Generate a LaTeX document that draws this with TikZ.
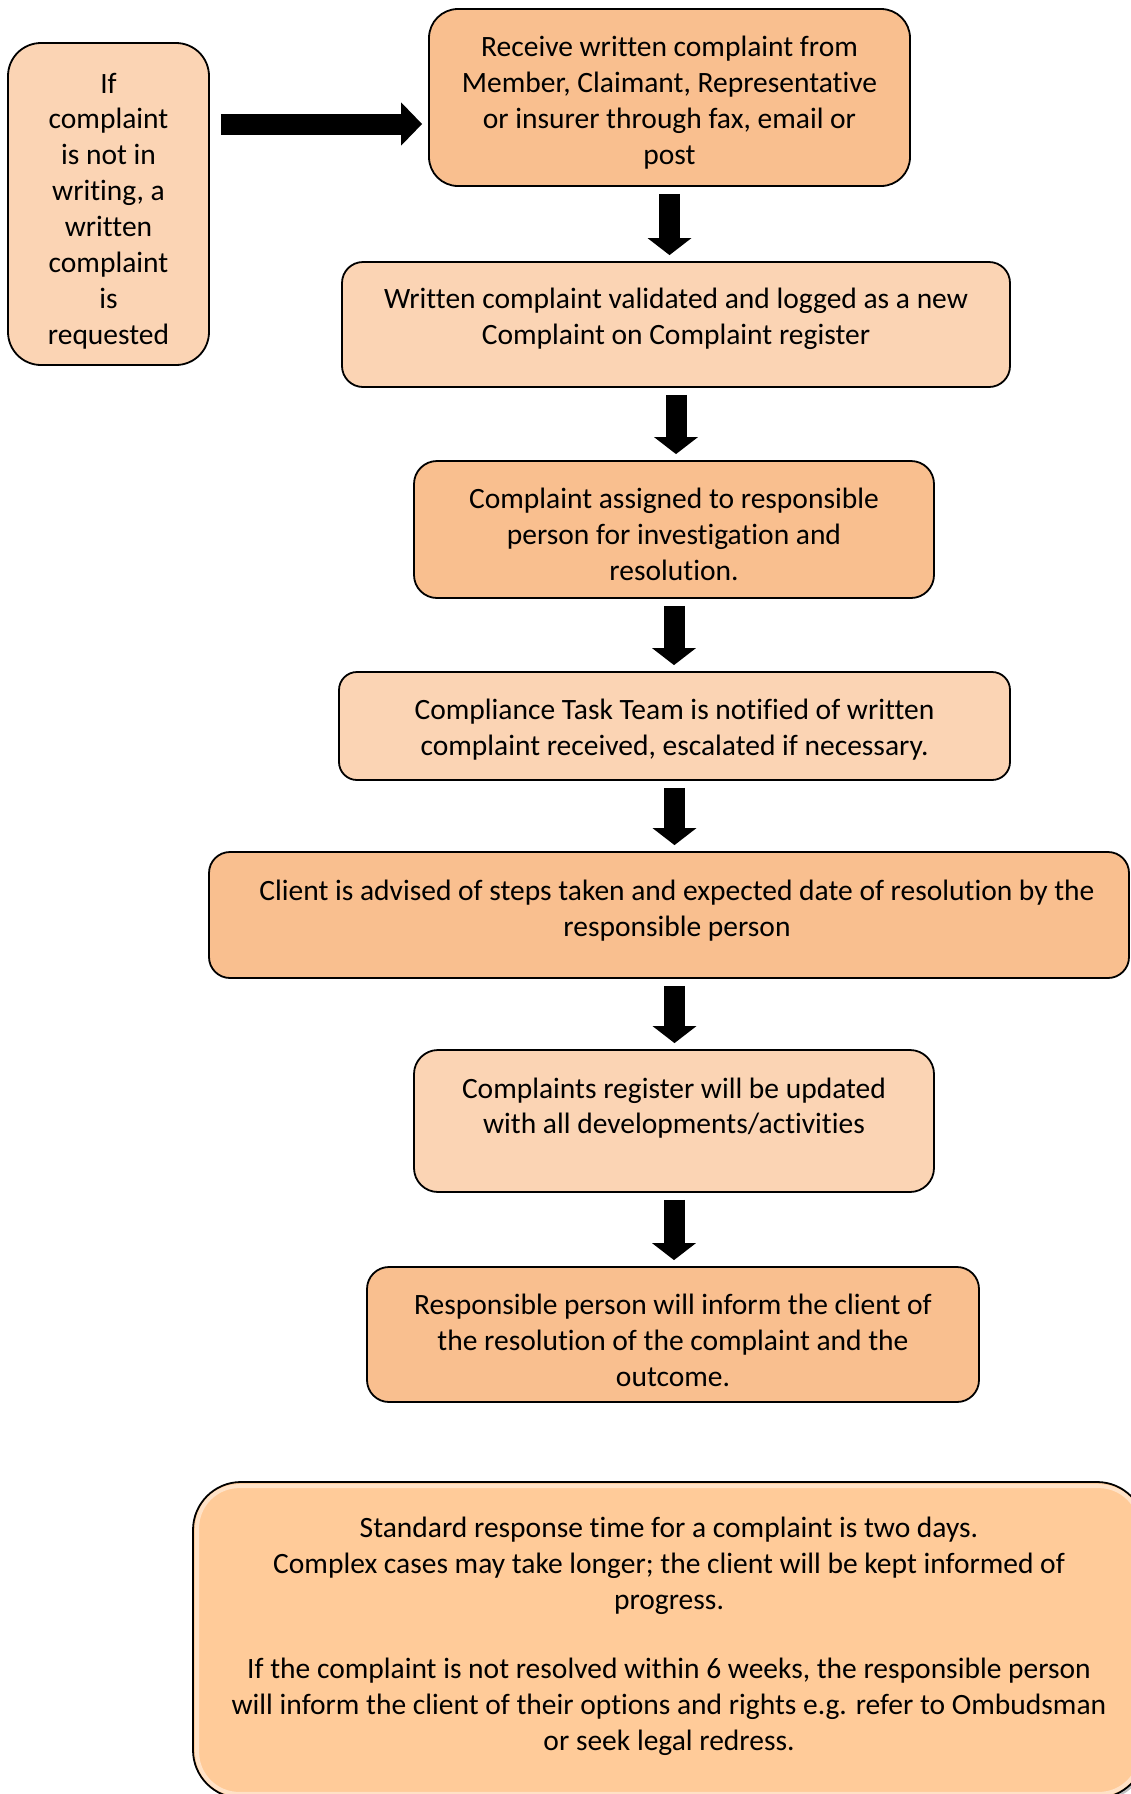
\documentclass[tikz,border=0pt]{standalone}
\usepackage{fontspec}
\setmainfont{Carlito}[Ligatures={NoCommon}]
\usetikzlibrary{arrows.meta,shadows}

\definecolor{peachdark}{HTML}{F9BF8F}
\definecolor{peachlight}{HTML}{FBD4B4}
\definecolor{peachnote}{HTML}{FFCB99}

% extra room above the first line or under the last one, moves the text in its box
\newcommand{\padabove}[1]{\rule{0pt}{#1}}
\newcommand{\padbelow}[1]{\rule[-#1]{0pt}{#1}}

\tikzset{
  stepbox/.style={draw, line width=0.9pt, align=center, inner sep=0pt,
    font=\fontsize{14.75}{17.95}\selectfont},
  darkbox/.style={stepbox, fill=peachdark},
  lightbox/.style={stepbox, fill=peachlight},
  downarrow/.style={line width=10.5pt, -{Triangle[width=21.5pt,length=8.5pt]},
    shorten <=3.5pt, shorten >=3pt},
  sidearrow/.style={line width=10.5pt, -{Triangle[width=21pt,length=10.5pt]}}
}

\begin{document}
\begin{tikzpicture}[x=0.5pt,y=-0.5pt]
        \useasboundingbox (0,0) rectangle (1130,1794);

        % the side box and the steps
        \node[lightbox, minimum width=100.5pt, minimum height=161pt, rounded corners=16.5pt]
            (ifbox) at (108.5,204) {\padabove{17.1pt}If\\ complaint\\ is not in\\ writing, a\\ written\\ complaint\\ is\\ requested};
        \node[darkbox, minimum width=240.5pt, minimum height=88.5pt, rounded corners=14.5pt]
            (recv) at (669.5,97.5) {\padabove{15.3pt}Receive written complaint from\\ Member, Claimant, Representative\\ or insurer through fax, email or\\ post};
        \node[lightbox, minimum width=334pt, minimum height=62.5pt, rounded corners=10.5pt]
            (valid) at (676,324.5) {Written complaint validated and logged as a new\\ Complaint on Complaint register\padbelow{8.1pt}};
        \node[darkbox, minimum width=260pt, minimum height=68.5pt, rounded corners=11.5pt]
            (assign) at (674,529.5) {\padabove{14.9pt}Complaint assigned to responsible\\ person for investigation and\\ resolution.};
        \node[lightbox, minimum width=335.5pt, minimum height=54pt, rounded corners=9pt]
            (task) at (674.5,726) {\padabove{13.7pt}Compliance Task Team is notified of written\\ complaint received, escalated if necessary.};
        \node[darkbox, minimum width=460pt, minimum height=63pt, rounded corners=10.5pt]
            (client) at (669,915) {\hspace*{8pt}Client is advised of steps taken and expected date of resolution by the\\ \hspace*{8pt}responsible person\padbelow{7.1pt}};
        \node[lightbox, minimum width=260pt, minimum height=71pt, rounded corners=12pt]
            (update) at (674,1121) {Complaints register will be updated\\ with all developments/activities\padbelow{15.3pt}};
        \node[darkbox, minimum width=306pt, minimum height=67.5pt, rounded corners=11pt]
            (inform) at (673,1334.5) {\padabove{16.1pt}Responsible person will inform the client of\\ the resolution of the complaint and the\\ outcome.};

        % the note at the bottom
        \node[stepbox, fill=peachnote, minimum width=476pt, minimum height=158pt, rounded corners=24pt,
            drop shadow={shadow xshift=1.2pt, shadow yshift=-1.2pt, opacity=0.5}]
            (note) at (669,1640) {\padabove{11.5pt}Standard response time for a complaint is two days.\\
            Complex cases may take longer; the client will be kept informed of\\ progress.\\[16.6pt]
            If the complaint is not resolved within 6 weeks, the responsible person\\
            will inform the client of their options and rights e.g. refer to Ombudsman\\ or seek legal redress.\padbelow{7.3pt}};
        \draw[white, opacity=0.45, line width=2pt, rounded corners=21pt]
            ([shift={(2.5pt,-2.5pt)}]note.north west) rectangle ([shift={(-2.5pt,2.5pt)}]note.south east);

        % the arrows
        \coordinate (reqtip) at ([xshift=-3pt,yshift=-13.25pt]recv.west);
        \draw[sidearrow, shorten <=5.5pt] (ifbox.east |- reqtip) -- (reqtip);
        \draw[downarrow] (recv.south) -- (recv.south |- valid.north);
        \draw[downarrow] (valid.south) -- (valid.south |- assign.north);
        \draw[downarrow] (assign.south) -- (assign.south |- task.north);
        \draw[downarrow] (task.south) -- (task.south |- client.north);
        \draw[downarrow] (client.south -| task.south) -- (task.south |- update.north);
        \draw[downarrow] (update.south) -- (update.south |- inform.north);

\end{tikzpicture}
\end{document}
